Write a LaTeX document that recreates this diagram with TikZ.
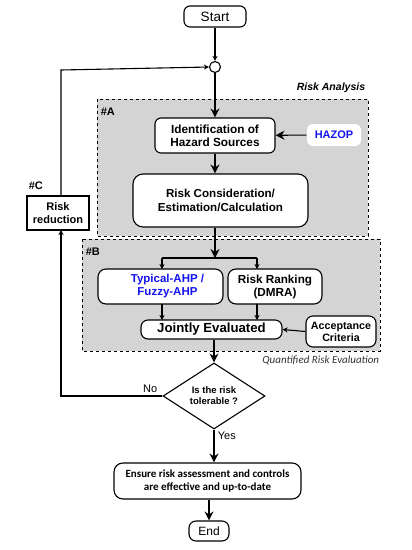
\documentclass[tikz,border=0pt]{standalone}
\usepackage{fontspec}
\setmainfont{Liberation Sans}
\newfontfamily\calibri{Carlito}
\usetikzlibrary{arrows.meta,shapes.geometric}
\definecolor{regiongray}{RGB}{212,212,212}
\definecolor{hazblue}{RGB}{20,20,240}
\begin{document}
\begin{tikzpicture}[
			x=1pt,y=-1pt,
			line width=1.1pt,
			font=\fontsize{11.8}{13}\selectfont\bfseries,
			box/.style={draw,fill=white,rounded corners=6pt,align=center,inner sep=0pt},
			region/.style={draw,dashed,fill=regiongray,line width=0.9pt},
			big/.style={-{Stealth[length=9pt,width=9pt,inset=3pt]}},
			small/.style={-{Stealth[length=5pt,width=5pt,inset=1.5pt]}}
		]
		\useasboundingbox (0,0) rectangle (412,550);
		% dashed regions
		\draw[region] (97,99) rectangle (368,236);
		\draw[region] (82,239) rectangle (380,351);
		\node[anchor=south east,font=\fontsize{10.5}{12}\selectfont\bfseries\itshape] (analysis) at (369,97) {Risk Analysis};
		\node[anchor=north east,font=\calibri\fontsize{11}{12}\selectfont\itshape,text=black!80] (quantified) at (383,352) {Quantified Risk Evaluation};
		\node[anchor=west,font=\fontsize{11}{12}\selectfont\bfseries] (labA) at (97,112) {\#A};
		\node[anchor=west,font=\fontsize{11}{12}\selectfont\bfseries] (labB) at (82,252) {\#B};
		\node[anchor=west,font=\fontsize{11}{12}\selectfont\bfseries] (labC) at (25,186) {\#C};

		% nodes
		\node[box,minimum width=62pt,minimum height=21pt,font=\fontsize{13.5}{14}\selectfont] (start) at (215,16.5) {Start};
		\node[draw,circle,fill=white,minimum size=11pt,inner sep=0pt] (junction) at (215,67) {};
		\node[box,minimum width=120pt,minimum height=35pt] (ident) at (215,135.5) {Identification of\\Hazard Sources};
		\node[box,draw=none,minimum width=54pt,minimum height=22pt,text=hazblue,font=\fontsize{11}{12}\selectfont\bfseries] (hazop) at (334,135) {HAZOP};
		\node[box,rounded corners=10pt,minimum width=175pt,minimum height=53pt,font=\fontsize{11.6}{14.5}\selectfont\bfseries] (consid) at (220.5,200.5) {Risk Consideration/\\Estimation/Calculation};
		\node[box,rounded corners=8pt,minimum width=125pt,minimum height=35pt,text=hazblue,font=\fontsize{11.5}{13}\selectfont\bfseries] (typical) at (160.5,286.5) {\hspace*{14pt}Typical-AHP /\\\hspace*{14pt}Fuzzy-AHP};
		\node[box,rounded corners=8pt,minimum width=94pt,minimum height=35pt,font=\fontsize{11.7}{13}\selectfont\bfseries] (ranking) at (275,286.5) {Risk Ranking\\(DMRA)};
		\node[box,rounded corners=7pt,minimum width=141pt,minimum height=19pt,font=\fontsize{13.2}{14}\selectfont\bfseries] (joint) at (211.5,329.5) {Jointly Evaluated};
		\node[box,rounded corners=7pt,minimum width=70pt,minimum height=31pt,font=\fontsize{10.7}{12}\selectfont\bfseries] (accept) at (341,331.5) {Acceptance\\Criteria};
		\node[draw,diamond,fill=white,minimum width=102pt,minimum height=46pt,inner sep=0pt,align=center,font=\fontsize{9.5}{11}\selectfont\bfseries] (decision) at (214,396) {Is the risk\\tolerable ?};
		\node[box,rounded corners=9pt,minimum width=187pt,minimum height=36pt,font=\calibri\fontsize{11}{13.5}\selectfont\bfseries] (ensure) at (207.5,481) {Ensure risk assessment and controls\\are effective and up-to-date};
		\node[box,rounded corners=7pt,minimum width=40pt,minimum height=20pt,font=\fontsize{12}{13}\selectfont] (end) at (209,531) {End};
		\node[draw,fill=white,align=center,inner sep=0pt,minimum width=62pt,minimum height=34pt,font=\fontsize{11}{12.5}\selectfont\bfseries] (reduction) at (58,213) {Risk\\reduction};
		\coordinate (fork) at (215,258);

		% connectors
		\draw[small] (start) -- (junction);
		\draw[big] (junction) -- (ident);
		\draw[big] (hazop) -- (ident);
		\draw[big] (ident.south) -- (ident.south |- consid.north);
		\draw[big] (fork |- consid.south) -- (fork);
		\draw (162,258) -- (257,258);
		\draw[small] (162,258) -- (162,269);
		\draw[small] (257,258) -- (257,269);
		\draw[small] (162,304) -- (162,320);
		\draw[small] (257,304) -- (257,320);
		\draw[small] (accept.west) -- (joint.east);
		\draw[big] (joint.south -| decision.north) -- (decision.north);
		\draw[big] (decision.south) -- node[right,pos=0.2,font=\fontsize{11}{12}\selectfont] (yes) {Yes} (decision.south |- ensure.north);
		\draw[big] (end.north |- ensure.south) -- (end.north);
		\draw[small] (decision.west) -- node[above,pos=0.12,font=\fontsize{11}{12}\selectfont] (no) {No} (61,396) -- (61,230);
		\draw[small] (61,196) -- (61,70) -- (junction.west);
	\end{tikzpicture}
\end{document}
